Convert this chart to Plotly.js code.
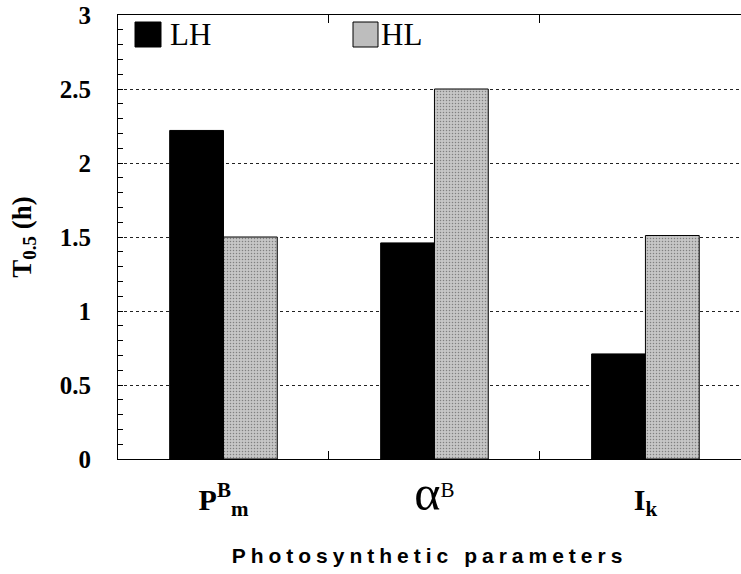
<!DOCTYPE html>
<html>
<head>
<meta charset="utf-8">
<script src="https://cdn.plot.ly/plotly-3.0.1.min.js"></script>
<style>
body{margin:0;padding:0;background:#fff;}
#chart{width:741px;height:574px;}
.xtitle{letter-spacing:5px;}
</style>
</head>
<body>
<div id="chart"></div>
<script>
var categories = ['<b>P</b><sup><b>B</b></sup><sub><b>m</b></sub>', '<span style="font-size:50px;">\u03B1</span><sup>B</sup>', '<b>I</b><sub><b>k</b></sub>'];
var seriesNames = ['LH', 'HL'];
var lhValues = [2.22, 1.46, 0.71];
var hlValues = [1.50, 2.50, 1.51];
var yTickVals = [0, 0.5, 1, 1.5, 2, 2.5, 3];
var yTickText = ['0', '0.5', '1', '1.5', '2', '2.5', '3'];

var traces = [
  {type:'bar', name:seriesNames[0], x:categories, y:lhValues,
   marker:{color:'#000000', line:{color:'#000000', width:1}}, showlegend:false},
  {type:'bar', name:seriesNames[1], x:categories, y:hlValues,
   marker:{color:'#c0c0c0', line:{color:'#000000', width:1},
     pattern:{shape:'.', fgcolor:'#808080', bgcolor:'#c6c6c6', size:3, solidity:0.2}}, showlegend:false}
];

var L = 118, R = 741, T = 15, B = 459;
function px(x){return (x-L)/(R-L);}
function py(y){return (B-y)/(B-T);}

var layout = {
  width:741, height:574,
  margin:{l:118, r:0, t:15, b:115},
  paper_bgcolor:'#ffffff', plot_bgcolor:'#ffffff',
  barmode:'group', bargap:0.49, bargroupgap:0,
  font:{family:'Liberation Serif, Times New Roman, serif', color:'#000'},
  xaxis:{
    type:'category', range:[-0.5, 2.453],
    showline:true, linecolor:'#000', linewidth:1, mirror:'ticks',
    ticks:'inside', ticklen:8, tickcolor:'#000', tickson:'boundaries',
    showgrid:false, zeroline:false,
    tickfont:{family:'Liberation Serif, Times New Roman, serif', size:30, color:'#000'},
    ticklabelstandoff:14,
    title:{text:'<b>Photosynthetic parameters</b>', standoff:28,
      font:{family:'Liberation Sans, Arial, sans-serif', size:21, color:'#000'}}
  },
  yaxis:{
    range:[0,3], tickvals:yTickVals, ticktext:yTickText,
    showline:true, linecolor:'#000', linewidth:1,
    ticks:'inside', ticklen:5, tickcolor:'#000',
    showgrid:true, gridcolor:'#222', gridwidth:1, griddash:'3px,3px',
    zeroline:false,
    minor:{dtick:0.1, ticks:'inside', ticklen:5, tickcolor:'#000', showgrid:false},
    tickfont:{family:'Liberation Serif, Times New Roman, serif', size:25, color:'#000', weight:'bold'},
    ticklabelstandoff:21,
    title:{text:'<b>T<sub>0.5</sub> (h)</b>', standoff:20,
      font:{family:'Liberation Serif, Times New Roman, serif', size:27, color:'#000'}}
  },
  shapes:[
    {type:'rect', xref:'paper', yref:'paper', x0:px(135), x1:px(161), y0:py(47), y1:py(22),
     fillcolor:'#000', line:{color:'#000', width:1}},
    {type:'rect', xref:'paper', yref:'paper', x0:px(353), x1:px(378), y0:py(47), y1:py(22),
     fillcolor:'#bdbdbd', line:{color:'#000', width:1}}
  ],
  annotations:[
    {xref:'paper', yref:'paper', x:px(168), y:py(35), xanchor:'left', yanchor:'middle',
     text:seriesNames[0], showarrow:false, font:{family:'Liberation Serif, Times New Roman, serif', size:31, color:'#000'}},
    {xref:'paper', yref:'paper', x:px(379), y:py(35), xanchor:'left', yanchor:'middle',
     text:seriesNames[1], showarrow:false, font:{family:'Liberation Serif, Times New Roman, serif', size:31, color:'#000'}}
  ]
};

Plotly.newPlot('chart', traces, layout, {displayModeBar:false, staticPlot:true});
</script>
</body>
</html>
